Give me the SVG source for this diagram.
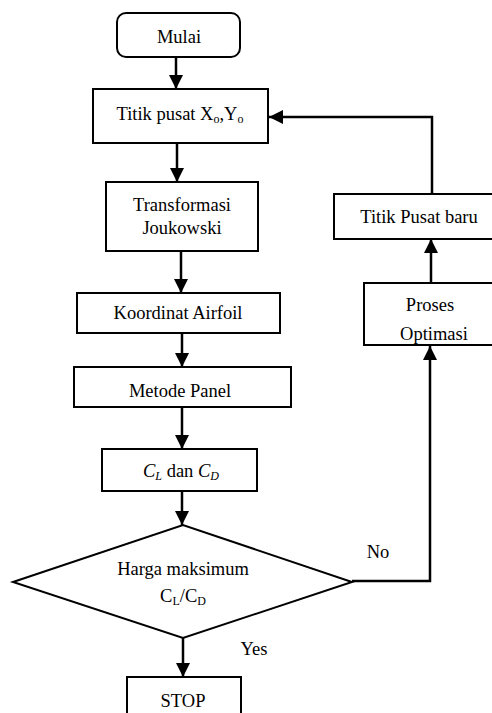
<svg xmlns="http://www.w3.org/2000/svg" width="492" height="713" viewBox="0 0 492 713">
<defs>
<marker id="arr" markerUnits="userSpaceOnUse" markerWidth="16" markerHeight="16" refX="14" refY="7" orient="auto">
<path d="M0,0 L14,7 L0,14 Z" fill="#000"/>
</marker>
<style>
.box{fill:#fff;stroke:#000;stroke-width:2}
.t{font-family:'Liberation Serif','Times New Roman',serif;font-size:18.5px;fill:#000;text-anchor:middle}
.sub{font-size:12px}
.c{fill:none;stroke:#000;stroke-width:2.5;marker-end:url(#arr)}
</style>
</defs>
<rect width="492" height="713" fill="#fff"/>
<g id="connectors">
<line class="c" x1="176" y1="57" x2="176" y2="89"/>
<line class="c" x1="177" y1="143" x2="177" y2="182"/>
<line class="c" x1="181" y1="251" x2="181" y2="293"/>
<line class="c" x1="182" y1="333" x2="182" y2="367"/>
<line class="c" x1="182" y1="407" x2="182" y2="449"/>
<line class="c" x1="182" y1="491" x2="182" y2="525"/>
<line class="c" x1="183" y1="638" x2="183" y2="677"/>
<polyline class="c" points="352,581 430,581 430,346"/>
<line class="c" x1="431" y1="283" x2="431" y2="239"/>
<polyline class="c" points="432,194 432,117 269,117"/>
</g>
<g id="mulai">
<rect class="box" x="117" y="13" width="123" height="44" rx="9"/>
<text class="t" x="179" y="43">Mulai</text>
</g>
<g id="titik-pusat">
<rect class="box" x="93" y="89" width="175" height="54"/>
<text class="t" x="180" y="120">Titik pusat X<tspan class="sub" dy="3">o</tspan><tspan dy="-3">,Y</tspan><tspan class="sub" dy="3">o</tspan></text>
</g>
<g id="transformasi">
<rect class="box" x="106" y="182" width="152" height="69"/>
<text class="t" x="182" y="211">Transformasi</text>
<text class="t" x="182" y="234">Joukowski</text>
</g>
<g id="koordinat">
<rect class="box" x="77" y="293" width="203" height="40"/>
<text class="t" x="178" y="319">Koordinat Airfoil</text>
</g>
<g id="metode-panel">
<rect class="box" x="74" y="367" width="217" height="40"/>
<text class="t" x="180" y="397">Metode Panel</text>
</g>
<g id="cl-cd">
<rect class="box" x="102" y="449" width="155" height="42"/>
<text class="t" x="181" y="477"><tspan font-style="italic">C</tspan><tspan class="sub" font-style="italic" dy="3">L</tspan><tspan dy="-3"> dan </tspan><tspan font-style="italic">C</tspan><tspan class="sub" font-style="italic" dy="3">D</tspan></text>
</g>
<g id="harga-maksimum">
<polygon class="box" points="13,582 183,525 352,582 183,638"/>
<text class="t" x="183" y="575">Harga maksimum</text>
<text class="t" x="183" y="602">C<tspan class="sub" dy="3">L</tspan><tspan dy="-3">/C</tspan><tspan class="sub" dy="3">D</tspan></text>
</g>
<g id="stop">
<rect class="box" x="127" y="677" width="114" height="45"/>
<text class="t" x="183" y="707">STOP</text>
</g>
<g id="titik-pusat-baru">
<rect class="box" x="334" y="194" width="162" height="45"/>
<text class="t" x="419" y="223">Titik Pusat baru</text>
</g>
<g id="proses-optimasi">
<rect class="box" x="364" y="283" width="132" height="62"/>
<text class="t" x="430" y="311">Proses</text>
<text class="t" x="434" y="340">Optimasi</text>
</g>
<g id="labels">
<text class="t" x="378" y="558">No</text>
<text class="t" x="254" y="655">Yes</text>
</g>
</svg>
